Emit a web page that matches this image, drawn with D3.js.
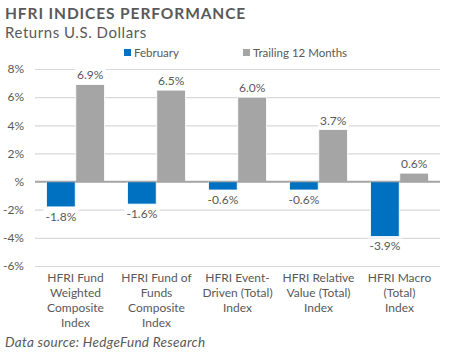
<!DOCTYPE html>
<html><head><meta charset="utf-8">
<script src="https://cdn.jsdelivr.net/npm/d3@7"></script>
<style>body{margin:0;background:#fff}svg{display:block}</style>
</head><body>
<svg id="c" width="450" height="355"></svg>
<script>
const categories = [
  ["HFRI Fund","Weighted","Composite","Index"],
  ["HFRI Fund of","Funds","Composite","Index"],
  ["HFRI Event-","Driven (Total)","Index"],
  ["HFRI Relative","Value (Total)","Index"],
  ["HFRI Macro","(Total)","Index"]
];
const february = [-1.8, -1.6, -0.6, -0.6, -3.9];
const trailing12 = [6.9, 6.5, 6.0, 3.7, 0.6];
const seriesNames = ["February", "Trailing 12 Months"];
const yTicks = [8, 6, 4, 2, 0, -2, -4, -6];
const yTickLabels = ["8%","6%","4%","2%","%","-2%","-4%","-6%"];
const colors = ["#0070C0", "#A5A5A5"];

(function(){
const font = "Lato, 'Open Sans', sans-serif";
const txt = "#595959";
const svg = d3.select("#c");
const mLeft = 35, mRight = 440, mTop = 69, mBottom = 266;

const y = d3.scaleLinear().domain([-6, 8]).range([mBottom, mTop]);
const x0 = d3.scaleBand().domain(d3.range(categories.length)).range([mLeft, mRight]).paddingInner(0.27).paddingOuter(0.135);
const x1 = d3.scaleBand().domain([0,1]).range([0, x0.bandwidth()]).padding(0.02);

// Title
svg.append("text").attr("x", 5).attr("y", 19).text("HFRI INDICES PERFORMANCE")
  .attr("font-family", font).attr("font-weight", "bold").attr("font-size", 15.5)
  .attr("letter-spacing", 0.9).attr("fill", txt);
svg.append("text").attr("x", 5).attr("y", 38).text("Returns U.S. Dollars")
  .attr("font-family", font).attr("font-size", 15).attr("letter-spacing", 0.55).attr("fill", txt);

// Gridlines
const grid = svg.append("g").attr("transform", `translate(${mLeft},0)`)
  .call(d3.axisLeft(y).tickValues(yTicks).tickSize(-(mRight - mLeft)).tickFormat((d,i) => yTickLabels[i]).tickPadding(11));
grid.select(".domain").remove();
grid.selectAll(".tick line").attr("stroke", d => d === 0 ? "#A6A6A6" : "#D9D9D9").attr("stroke-width", d => d === 0 ? 1.5 : 1.2);
grid.selectAll(".tick text").attr("font-family", font).attr("font-size", 12).attr("fill", txt);

// Bars
const groups = svg.append("g").selectAll("g").data(categories).join("g")
  .attr("transform", (d,i) => `translate(${x0(i)},0)`);
const series = [february, trailing12];
series.forEach((vals, s) => {
  groups.append("rect")
    .attr("x", x1(s)).attr("width", x1.bandwidth())
    .attr("y", (d,i) => y(Math.max(0, vals[i])))
    .attr("height", (d,i) => Math.abs(y(vals[i]) - y(0)))
    .attr("fill", colors[s]).attr("stroke", "#fff").attr("stroke-width", 0.8);
});
// zero line on top
svg.append("line").attr("x1", mLeft).attr("x2", mRight).attr("y1", y(0)).attr("y2", y(0))
  .attr("stroke", "#A6A6A6").attr("stroke-width", 1.5);

// Data labels
series.forEach((vals, s) => {
  groups.each(function(d, i) {
    const v = vals[i];
    const g = d3.select(this);
    const cx = x1(s) + x1.bandwidth() / 2;
    const ty = v >= 0 ? y(v) - 5 : y(v) + 14;
    const t = g.append("text").attr("x", cx).attr("y", ty).attr("text-anchor", "middle")
      .attr("font-family", font).attr("font-size", 12).attr("fill", txt)
      .text(v.toFixed(1) + "%");
    const bb = t.node().getBBox();
    g.insert("rect", () => t.node()).attr("x", bb.x - 2).attr("y", bb.y).attr("width", bb.width + 4).attr("height", bb.height).attr("fill", "#fff");
  });
});

// X labels
groups.each(function(lines, i) {
  const t = d3.select(this).append("text").attr("text-anchor", "middle")
    .attr("font-family", font).attr("font-size", 12).attr("fill", txt);
  lines.forEach((l, k) => t.append("tspan").attr("x", x0.bandwidth() / 2).attr("y", 282 + k * 15).text(l));
});

// Legend
const leg = [[124, 0], [243, 1]];
leg.forEach(([lx, s]) => {
  svg.append("rect").attr("x", lx).attr("y", 49).attr("width", 7).attr("height", 7).attr("fill", colors[s]);
  svg.append("text").attr("x", lx + 10).attr("y", 57).text(seriesNames[s])
    .attr("font-family", font).attr("font-size", 11.5).attr("fill", txt);
});

// Footer
svg.append("text").attr("x", 5).attr("y", 347).text("Data source: HedgeFund Research")
  .attr("font-family", font).attr("font-style", "italic").attr("font-size", 13.5).attr("letter-spacing", 0.3).attr("fill", txt);
})();
</script>
</body></html>
